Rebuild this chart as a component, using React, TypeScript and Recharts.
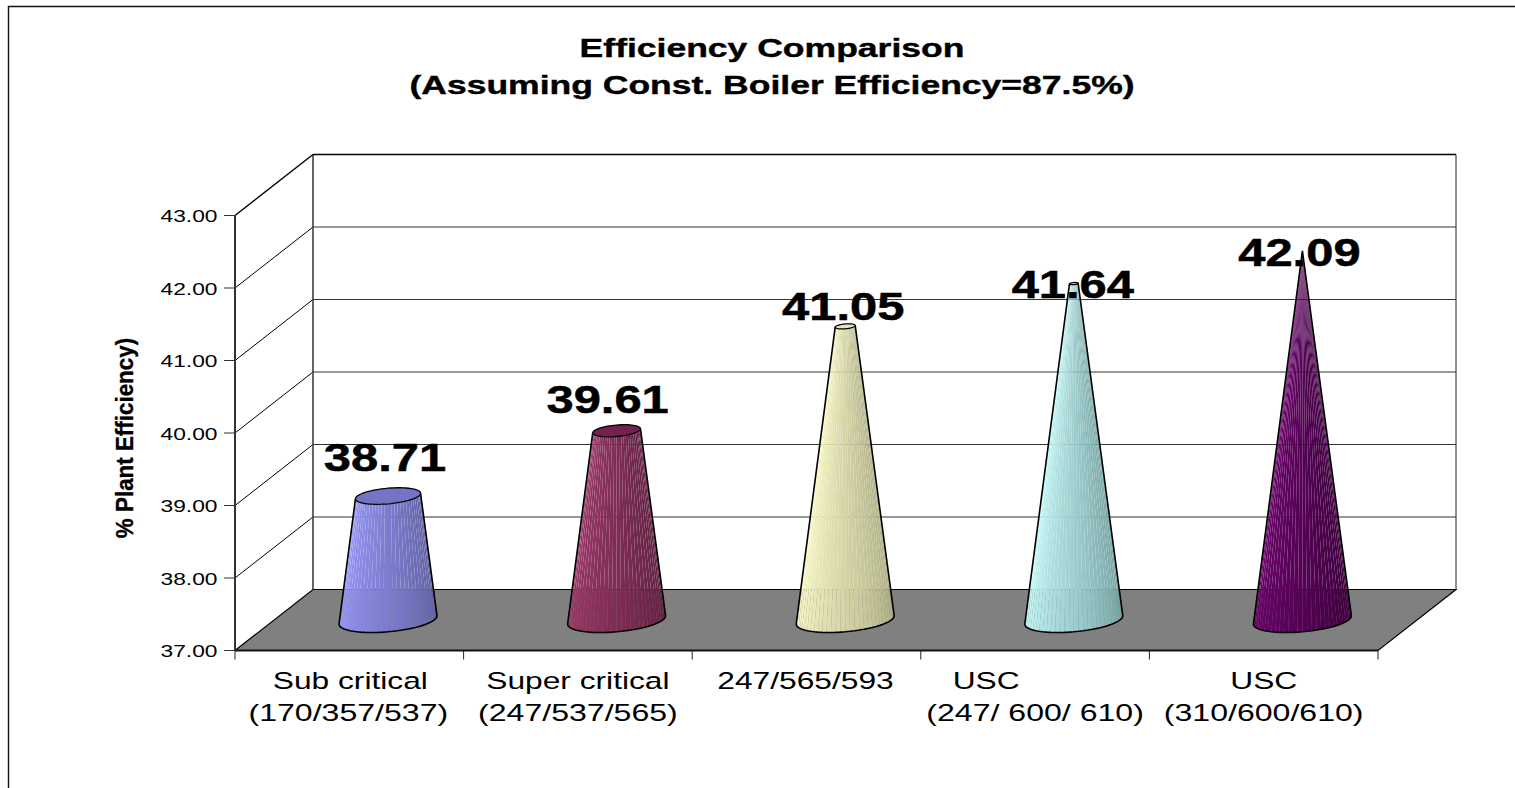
import React from "react";
import { BarChart, Bar, XAxis, YAxis, CartesianGrid, LabelList } from "recharts";

// Chart contents
const categoryTop = ["Sub critical", "Super critical", "247/565/593", "USC", "USC"];
const categoryBottom = ["(170/357/537)", "(247/537/565)", "", "(247/ 600/ 610)", "(310/600/610)"];
const efficiency = [38.71, 39.61, 41.05, 41.64, 42.09];
const yTicks = [37, 38, 39, 40, 41, 42, 43];
const titleLines = ["Efficiency Comparison", "(Assuming Const. Boiler Efficiency=87.5%)"];
const yAxisTitle = "% Plant Efficiency)";

// Hand-placed annotations, relative to each cone's natural position
const categoryTopShift = [1, 0, -1, -49, 0];
const categoryBottomShift = [-1, 0, 0, 0, 0];
const labelShiftX = [36, 30, 37, 38, 36];
const labelShiftY = [-55, -48, -36, -16, -15];

// Base shading of each cone: lit side, then the darker side and the cap
const coneLit = ["#9c9cff", "#a03a6c", "#ffffcc", "#ccffff", "#6e046e"];
const coneShade = ["#5c5c9c", "#5c1f3e", "#a8a880", "#6f9c9c", "#3a003a"];
const coneCap = ["#7474c4", "#73224f", "#e6e6b8", "#d4f4f4", "#5a0a5a"];

const rows = categoryTop.map((name, i) => ({ name, efficiency: efficiency[i] }));

const WIDTH = 1515;
const HEIGHT = 788;
const PLOT_LEFT = 235;
const PLOT_RIGHT = 1378;
const PLOT_TOP = 215.5;
const PLOT_BOTTOM = 650.5;
const DEPTH_X = 78;
const DEPTH_Y = -61;
const FONT = "'Liberation Sans', Arial, sans-serif";
const INK = "#111";

type StretchProps = {
  x: number;
  y: number;
  size: number;
  scaleX?: number;
  bold?: boolean;
  weight?: number;
  anchor?: "start" | "middle" | "end";
  children: React.ReactNode;
};

// Text widened along the x direction, as the whole chart is drawn wide
function WideText({ x, y, size, scaleX = 1.3, bold, weight = 0, anchor = "middle", children }: StretchProps) {
  return (
    <text
      transform={`translate(${x},${y}) scale(${scaleX},1)`}
      fontFamily={FONT}
      fontSize={size}
      fontWeight={bold ? 700 : 400}
      textAnchor={anchor}
      fill="#000"
      stroke={weight ? "#000" : "none"}
      strokeWidth={weight}
    >
      {children}
    </text>
  );
}

function lerpColor(a: string, b: string, t: number) {
  const channel = (hex: string, at: number) => parseInt(hex.slice(at, at + 2), 16);
  const mix = (at: number) => Math.round(channel(a, at) + (channel(b, at) - channel(a, at)) * t);
  return `rgb(${mix(1)},${mix(3)},${mix(5)})`;
}

const FACETS = 32;
const TILT = -0.085;
const SQUASH = 0.24;

// A cone cut off at its value: made of separate facets so the seams show the wall behind
function ConeShape(props: any) {
  const { x, y, width, height, index, payload } = props;
  const cx = x + width / 2 + DEPTH_X / 2;
  const baseY = y + height + DEPTH_Y / 2;
  const topY = y + DEPTH_Y / 2;
  const peak = Math.max(...efficiency);
  const baseR = width / 2;
  const topR = baseR * (1 - (payload.efficiency - yTicks[0]) / (peak - yTicks[0]));

  const ring = (cy: number, r: number, t: number): [number, number] => [
    cx + r * Math.cos(t),
    cy + r * TILT * Math.cos(t) + r * SQUASH * Math.sin(t),
  ];
  const angle = (i: number) => (Math.PI * i) / FACETS;

  const facets = [];
  for (let i = 0; i < FACETS; i++) {
    const a = ring(topY, topR, angle(i));
    const b = ring(topY, topR, angle(i + 1));
    const c = ring(baseY, baseR, angle(i + 1));
    const d = ring(baseY, baseR, angle(i));
    const shade = 1 - (i + 0.5) / FACETS;
    facets.push(
      <polygon
        key={i}
        points={[a, b, c, d].map((p) => p.join(",")).join(" ")}
        fill={lerpColor(coneLit[index], coneShade[index], shade)}
      />
    );
  }

  const basePts = [];
  for (let i = 0; i <= FACETS; i++) basePts.push(ring(baseY, baseR, angle(i)));
  const capPts = [];
  for (let i = 0; i < FACETS * 2; i++) capPts.push(ring(topY, topR, angle(i)));
  const outline =
    `M${ring(topY, topR, 0).join(",")} L` +
    basePts.map((p) => p.join(",")).join(" L") +
    ` L${ring(topY, topR, Math.PI).join(",")}`;

  return (
    <g>
      {facets}
      <path d={outline} fill="none" stroke="#000" strokeWidth={1.6} />
      {topR > 0.5 && (
        <polygon
          points={capPts.map((p) => p.join(",")).join(" ")}
          fill={coneCap[index]}
          stroke="#000"
          strokeWidth={1.3}
        />
      )}
    </g>
  );
}

// Each grid line runs along the side wall and across the back wall;
// the lowest one also lays the floor and the top one closes the walls.
function WallLine(props: any) {
  const { x1, x2, y1 } = props;
  const backY = y1 + DEPTH_Y;
  const backL = x1 + DEPTH_X;
  const backR = x2 + DEPTH_X;
  if (Math.abs(y1 - PLOT_BOTTOM) < 1) {
    return (
      <g>
        <polygon
          points={`${x1},${y1} ${x2},${y1} ${backR},${backY} ${backL},${backY}`}
          fill="#808080"
          stroke="#000"
          strokeWidth={1.2}
        />
        <line x1={x1} x2={x2} y1={y1} y2={y1} stroke={INK} strokeWidth={2} />
      </g>
    );
  }
  const isTop = Math.abs(y1 - PLOT_TOP) < 1;
  return (
    <g>
      {isTop && (
        <>
          <line x1={backL} x2={backL} y1={backY} y2={PLOT_BOTTOM + DEPTH_Y} stroke="#333" strokeWidth={1.5} />
          <line x1={backR} x2={backR} y1={backY} y2={PLOT_BOTTOM + DEPTH_Y} stroke="#222" strokeWidth={1} />
        </>
      )}
      <line x1={x1} y1={y1} x2={backL} y2={backY} stroke="#000" strokeWidth={isTop ? 1.4 : 1} />
      <line x1={backL} y1={backY} x2={backR} y2={backY} stroke={isTop ? "#000" : "#333"} strokeWidth={isTop ? 1.4 : 1.2} />
    </g>
  );
}

function ValueTick(props: any) {
  const { y, payload } = props;
  return (
    <WideText x={PLOT_LEFT - 17.5} y={y + 6.5} size={16.5} scaleX={1.38} anchor="end">
      {payload.value.toFixed(2)}
    </WideText>
  );
}

// Category label plus the tick marks on the band edges either side of it
function CategoryTick(props: any) {
  const { x, index } = props;
  const step = (PLOT_RIGHT - PLOT_LEFT) / categoryTop.length;
  const top = PLOT_BOTTOM;
  return (
    <g>
      {index === 0 && (
        <line x1={x - step / 2} x2={x - step / 2} y1={top} y2={top + 9} stroke="#222" strokeWidth={1} />
      )}
      <line x1={x + step / 2} x2={x + step / 2} y1={top} y2={top + 9} stroke="#222" strokeWidth={1} />
      <WideText x={x + categoryTopShift[index]} y={top + 38.5} size={23.5} scaleX={1.35}>
        {categoryTop[index]}
      </WideText>
      {categoryBottom[index] && (
        <WideText x={x + categoryBottomShift[index]} y={top + 70.5} size={23.5} scaleX={1.365}>
          {categoryBottom[index]}
        </WideText>
      )}
    </g>
  );
}

function ValueLabel(props: any) {
  const { x, y, width, value, index } = props;
  return (
    <WideText
      x={x + width / 2 + labelShiftX[index]}
      y={y + labelShiftY[index] - 0.5}
      size={38.5}
      scaleX={1.27}
      bold
      weight={0.5}
    >
      {Number(value).toFixed(2)}
    </WideText>
  );
}

export default function App() {
  return (
    <div style={{ position: "fixed", left: 0, top: 0, width: WIDTH, height: HEIGHT, overflow: "hidden", background: "#fff" }}>
      <BarChart
        width={WIDTH}
        height={HEIGHT}
        data={rows}
        margin={{ left: PLOT_LEFT - 60, right: WIDTH - PLOT_RIGHT, top: PLOT_TOP, bottom: HEIGHT - PLOT_BOTTOM - 60 }}
      >
        <path d={`M8.5,${HEIGHT} V6.5 H${WIDTH}`} fill="none" stroke="#111" strokeWidth={1.4} />
        <WideText x={772} y={57} size={26.5} scaleX={1.34} bold weight={0.4}>
          {titleLines[0]}
        </WideText>
        <WideText x={772} y={94} size={26.5} scaleX={1.34} bold weight={0.4}>
          {titleLines[1]}
        </WideText>
        <text
          transform="translate(132.5,438) rotate(-90) scale(1.12,1.15)"
          fontFamily={FONT}
          fontSize={20}
          fontWeight={700}
          textAnchor="middle"
          fill="#000"
          stroke="#000"
          strokeWidth={0.3}
        >
          {yAxisTitle}
        </text>
        <CartesianGrid vertical={false} horizontal={WallLine as any} />
        <XAxis
          dataKey="name"
          height={60}
          interval={0}
          axisLine={false}
          tickLine={false}
          tick={CategoryTick as any}
        />
        <YAxis
          width={60}
          domain={[37, 43]}
          ticks={yTicks}
          interval={0}
          tickSize={11}
          axisLine={{ stroke: "#333", strokeWidth: 2 }}
          tickLine={{ stroke: "#333" }}
          tick={ValueTick as any}
        />
        <Bar dataKey="efficiency" barSize={98} isAnimationActive={false} shape={ConeShape as any}>
          <LabelList dataKey="efficiency" content={ValueLabel as any} />
        </Bar>
      </BarChart>
    </div>
  );
}
